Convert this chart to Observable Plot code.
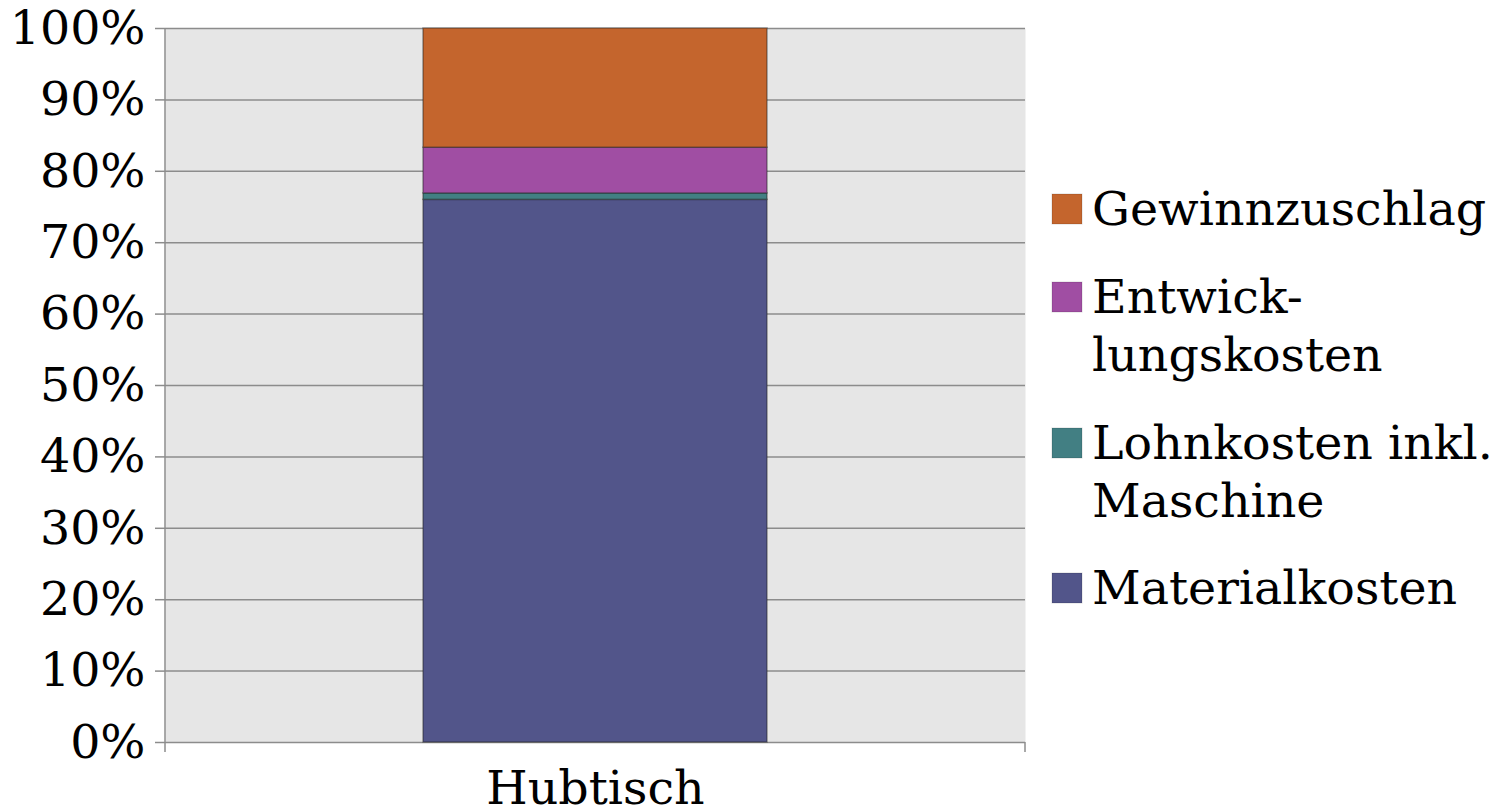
<!DOCTYPE html>
<html>
<head>
<meta charset="utf-8">
<script src="https://cdn.jsdelivr.net/npm/d3@7"></script>
<script src="https://cdn.jsdelivr.net/npm/@observablehq/plot@0.6"></script>
<style>
  html, body { margin: 0; padding: 0; background: #fff; }
  #wrap { position: relative; width: 1503px; height: 811px; font-family: "DejaVu Serif", serif; }
  #legend { position: absolute; left: 0; top: 0; pointer-events: none; }
</style>
</head>
<body>
<div id="wrap"></div>
<script>
// Data
const categories = ["Hubtisch"];
const series = ["Materialkosten", "Lohnkosten inkl. Maschine", "Entwicklungskosten", "Gewinnzuschlag"];
const legendLabels = [["Materialkosten"], ["Lohnkosten inkl.", "Maschine"], ["Entwick-", "lungskosten"], ["Gewinnzuschlag"]];
const values = [76.0, 0.9, 6.4, 16.7];
const colors = ["#52558A", "#427F83", "#A04EA3", "#C4652D"];
const yTicks = [0, 10, 20, 30, 40, 50, 60, 70, 80, 90, 100];

const data = series.map((s, i) => ({cat: categories[0], series: s, value: values[i]}));

const W = 1503, H = 811;
const mL = 165, mR = 478, mT = 28, mB = 69;
const grid = "#8c8c8c";
const FS = 47.5;

function edgeTicks(index, scales, values, dim) {
  const g = d3.create("svg:g").attr("stroke", grid).attr("stroke-width", 1.5);
  const y0 = dim.height - dim.marginBottom;
  for (const x of [dim.marginLeft, dim.width - dim.marginRight]) {
    g.append("line").attr("x1", x).attr("x2", x).attr("y1", y0).attr("y2", y0 + 10);
  }
  g.append("line").attr("x1", dim.marginLeft).attr("x2", dim.marginLeft)
    .attr("y1", dim.marginTop).attr("y2", y0);
  return g.node();
}

const chart = Plot.plot({
  width: W, height: H,
  marginLeft: mL, marginRight: mR, marginTop: mT, marginBottom: mB,
  style: {fontFamily: "DejaVu Serif", fontSize: FS + "px", color: "#000", background: "transparent", overflow: "visible"},
  x: {domain: categories, paddingInner: 0.6, paddingOuter: 0.3, label: null},
  y: {domain: [0, 100], label: null},
  color: {domain: series, range: colors},
  marks: [
    Plot.frame({fill: "#e6e6e6", stroke: null}),
    Plot.gridY(yTicks, {stroke: grid, strokeOpacity: 1, strokeWidth: 1.5}),
    Plot.axisY(yTicks, {tickFormat: d => d + "%", tickSize: 10, tickPadding: 10, stroke: grid, strokeWidth: 1.5, fontSize: FS, label: null}),
    Plot.axisX({tickSize: 0, tickPadding: 28, fontSize: FS, label: null}),
    Plot.barY(data, {x: "cat", y: "value", fill: "series", stroke: "#222", strokeOpacity: 0.45, strokeWidth: 1.5}),
    edgeTicks
  ]
});
document.getElementById("wrap").appendChild(chart);

// Legend (top entry = top of stack)
const legendTops = [573, 428, 282, 194]; // swatch tops for series order
const svg = d3.select("#wrap").append("svg").attr("id", "legend").attr("width", W).attr("height", H);
series.forEach((s, i) => {
  const t = legendTops[i];
  svg.append("rect").attr("x", 1052).attr("y", t).attr("width", 30).attr("height", 30)
    .attr("fill", colors[i]).attr("stroke", "#000").attr("stroke-opacity", 0.15);
  const text = svg.append("text").attr("x", 1092).attr("y", t + 31)
    .attr("font-family", "DejaVu Serif").attr("font-size", FS).attr("fill", "#000");
  legendLabels[i].forEach((line, j) => {
    text.append("tspan").attr("x", 1092).attr("dy", j === 0 ? 0 : 58).text(line);
  });
});
</script>
</body>
</html>
